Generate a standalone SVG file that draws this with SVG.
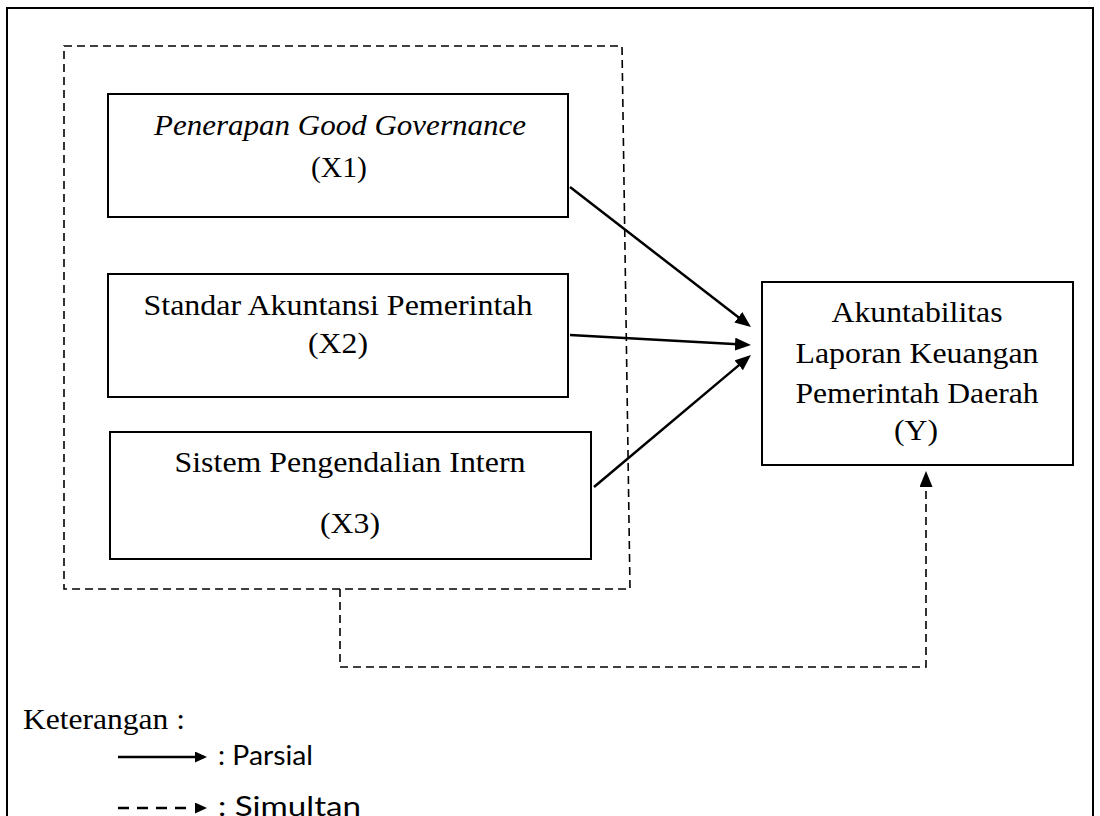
<svg xmlns="http://www.w3.org/2000/svg" width="1100" height="816" viewBox="0 0 1100 816">
<style>
.box{fill:#fff;stroke:#000;stroke-width:2}
.t{font-family:"Liberation Serif","Times New Roman",serif;font-size:30px;fill:#000}
.c{text-anchor:middle}
.it{font-style:italic}
.s{font-family:Lato,"Open Sans","Liberation Sans",sans-serif;font-size:26px;fill:#000}
.arr{fill:none;stroke:#000;stroke-width:2.5}
.dash{fill:none;stroke:#000;stroke-width:1.6;stroke-dasharray:8 5}
</style>
<defs>
<marker id="ah" markerUnits="userSpaceOnUse" markerWidth="18" markerHeight="14" refX="12" refY="6.5" orient="auto">
<path d="M0,0 L16,6.5 L0,13 z" fill="#000"/>
</marker>
<marker id="ahs" markerUnits="userSpaceOnUse" markerWidth="14" markerHeight="12" refX="9" refY="5.5" orient="auto">
<path d="M0,0 L12,5.5 L0,11 z" fill="#000"/>
</marker>
</defs>
<rect x="7" y="8" width="1086" height="830" fill="#fff" stroke="#000" stroke-width="2"/>
<path id="group-box" class="dash" d="M64,46 L622,46 L630,589 L64,589 Z"/>
<g id="x1">
<rect class="box" x="108" y="94" width="460" height="123"/>
<text class="t c it" x="340" y="135" textLength="372" lengthAdjust="spacingAndGlyphs">Penerapan Good Governance</text>
<text class="t c" x="339" y="177" textLength="56" lengthAdjust="spacingAndGlyphs">(X1)</text>
</g>
<g id="x2">
<rect class="box" x="108" y="274" width="460" height="123"/>
<text class="t c" x="338" y="315" textLength="389" lengthAdjust="spacingAndGlyphs">Standar Akuntansi Pemerintah</text>
<text class="t c" x="338" y="353" textLength="60" lengthAdjust="spacingAndGlyphs">(X2)</text>
</g>
<g id="x3">
<rect class="box" x="110" y="432" width="481" height="127"/>
<text class="t c" x="350" y="472" textLength="351" lengthAdjust="spacingAndGlyphs">Sistem Pengendalian Intern</text>
<text class="t c" x="350" y="533" textLength="60" lengthAdjust="spacingAndGlyphs">(X3)</text>
</g>
<g id="y">
<rect class="box" x="762" y="282" width="311" height="183"/>
<text class="t c" x="917" y="322" textLength="171" lengthAdjust="spacingAndGlyphs">Akuntabilitas</text>
<text class="t c" x="917" y="363" textLength="243" lengthAdjust="spacingAndGlyphs">Laporan Keuangan</text>
<text class="t c" x="917" y="403" textLength="243" lengthAdjust="spacingAndGlyphs">Pemerintah Daerah</text>
<text class="t c" x="916" y="440" textLength="44" lengthAdjust="spacingAndGlyphs">(Y)</text>
</g>
<g id="connectors">
<line class="arr" x1="570" y1="187" x2="747.8" y2="324.6" marker-end="url(#ah)"/>
<line class="arr" x1="570" y1="335" x2="747" y2="344.8" marker-end="url(#ah)"/>
<line class="arr" x1="594" y1="487" x2="747.9" y2="357.6" marker-end="url(#ah)"/>
<path class="dash" d="M340,589 L340,667 L926,667 L926,475" marker-end="url(#ah)"/>
</g>
<g id="legend">
<text class="t" x="23" y="729" textLength="162" lengthAdjust="spacingAndGlyphs">Keterangan :</text>
<line class="arr" x1="118" y1="757" x2="204" y2="757" marker-end="url(#ahs)"/>
<text class="s" x="218" y="765" textLength="95" lengthAdjust="spacingAndGlyphs">: Parsial</text>
<path d="M118,808 H129 M137,808 H148 M156,808 H167 M175,808 H186" fill="none" stroke="#000" stroke-width="2.5"/>
<line x1="190" y1="808" x2="204" y2="808" stroke="none" marker-end="url(#ahs)"/>
<text class="s" x="218" y="816" textLength="143" lengthAdjust="spacingAndGlyphs">: Simultan</text>
</g>
</svg>
